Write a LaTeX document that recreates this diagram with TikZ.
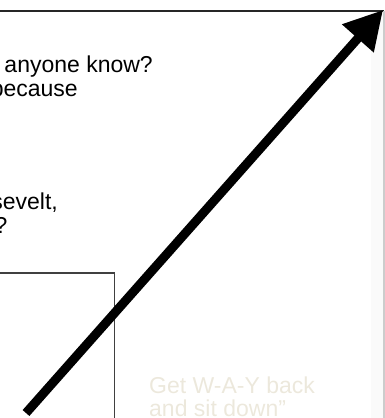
\documentclass[tikz,border=0pt]{standalone}
\usepackage{fontspec}
\setmainfont{Liberation Sans}
\usetikzlibrary{positioning,arrows.meta}

\begin{document}
\begin{tikzpicture}[
  x=1pt, y=-1pt,
  font=\fontsize{23}{26}\selectfont,
  txt/.style={inner sep=0pt, anchor=base east},
  pale/.style={inner sep=0pt, anchor=base west, text=paletext},
  frame/.style={line width=2pt, black!85},
  edge/.style={line width=1.2pt, black!20},
  boxline/.style={line width=1.5pt, black!75},
  bigarr/.style={-{Triangle[length=38pt, width=40pt]}, line width=9pt}
]
\definecolor{paletext}{RGB}{236,232,220}
\useasboundingbox (0,0) rectangle (385,418);
\clip (0,0) rectangle (385,418);
% ----- frame -----
\fill[black!2] (371,10) rectangle (384,418);
\draw[frame] (0,10.5) -- (384,10.5);
\draw[edge] (384,11) -- (384,418);
% ----- cut-off text, left -----
\node[txt] (ask)  at (153,72)  {anyone know?};
\node[txt] (why)  at (78,96)   {because};
\node[txt] (name) at (58,209)  {sevelt,};
\node[txt] (qm)   at (7.5,233) {?};
% ----- lower box -----
\draw[boxline] (-5,273) -| (114.5,425);
% ----- faded text, bottom right -----
\node[pale] (back) at (149,393) {Get W-A-Y back};
\node[pale] (sit)  at (149,416) {and sit down”};
% ----- arrow -----
\coordinate (tail) at (26,413);
\coordinate (tip)  at (383,10);
\draw[bigarr] (tail) -- (tip);
\end{tikzpicture}
\end{document}
